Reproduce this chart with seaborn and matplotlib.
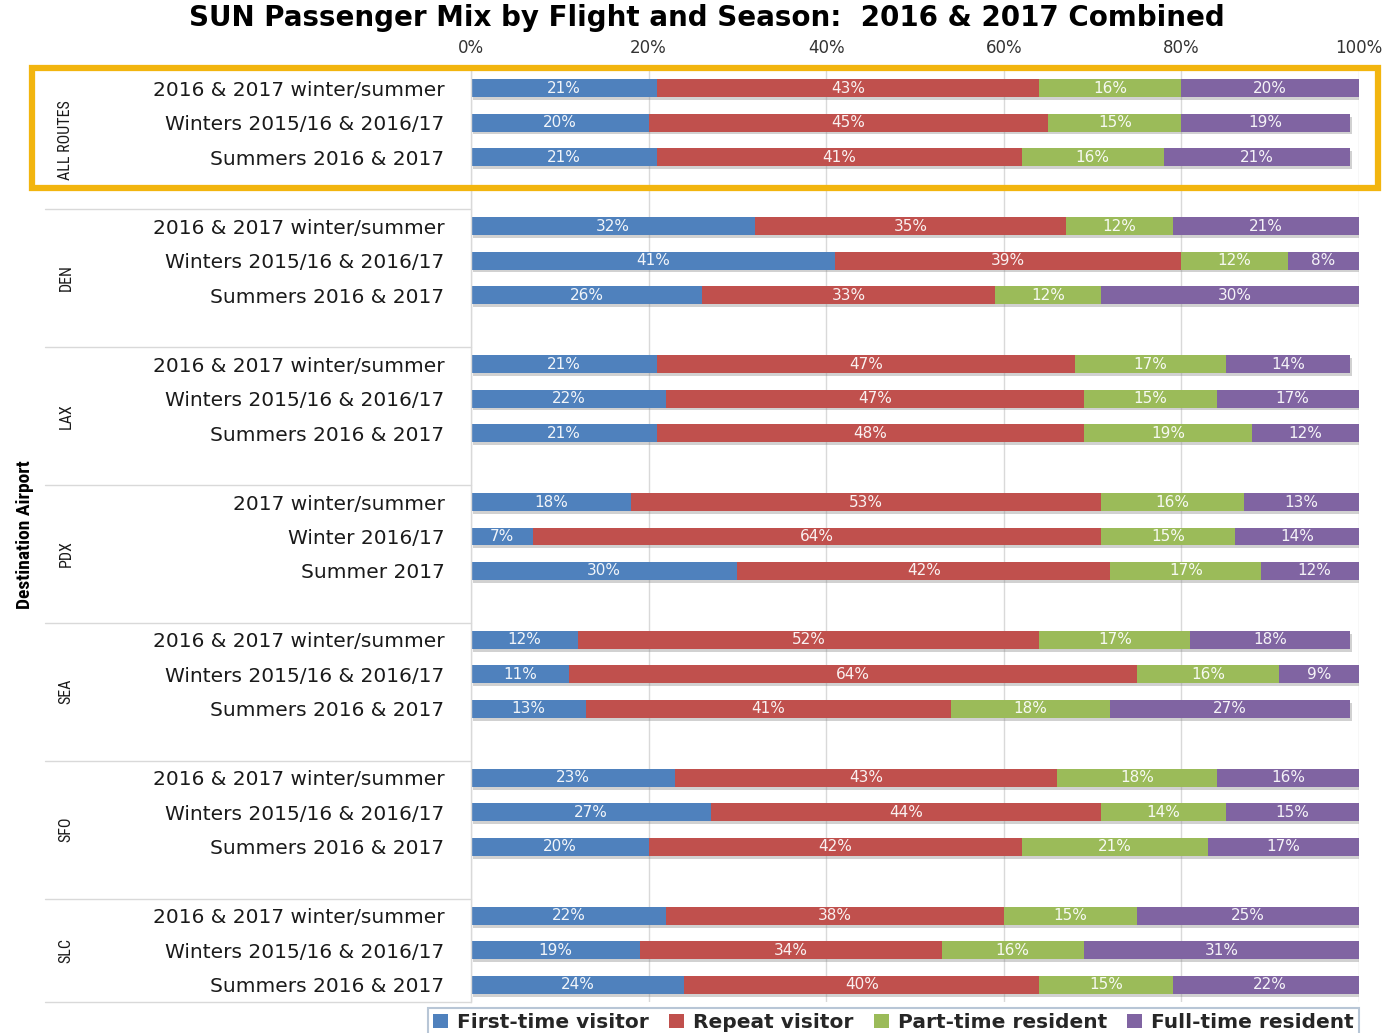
import numpy as np
import pandas as pd
import matplotlib
matplotlib.use("Agg")
import matplotlib.pyplot as plt
import matplotlib.transforms as mtransforms
import matplotlib.patheffects as pe
from matplotlib.patches import Patch, Rectangle
import seaborn as sns

# ---- data -------------------------------------------------------------
groups = ["ALL ROUTES", "DEN", "LAX", "PDX", "SEA", "SFO", "SLC"]

std_rows = ["2016 & 2017 winter/summer", "Winters 2015/16 & 2016/17", "Summers 2016 & 2017"]
pdx_rows = ["2017 winter/summer", "Winter 2016/17", "Summer 2017"]
row_labels = [std_rows, std_rows, std_rows, pdx_rows, std_rows, std_rows, std_rows]

series = ["First-time visitor", "Repeat visitor", "Part-time resident", "Full-time resident"]
colors = ["#4F81BD", "#C0504D", "#9BBB59", "#8064A2"]

first_time = [21, 20, 21, 32, 41, 26, 21, 22, 21, 18, 7, 30, 12, 11, 13, 23, 27, 20, 22, 19, 24]
repeat     = [43, 45, 41, 35, 39, 33, 47, 47, 48, 53, 64, 42, 52, 64, 41, 43, 44, 42, 38, 34, 40]
part_time  = [16, 15, 16, 12, 12, 12, 17, 15, 19, 16, 15, 17, 17, 16, 18, 18, 14, 21, 15, 16, 15]
full_time  = [20, 19, 21, 21, 8, 30, 14, 17, 12, 13, 14, 12, 18, 9, 27, 16, 15, 17, 25, 31, 22]

# ---- tidy table: one row per bar, slot = vertical position ----------
records = []
k = 0
for gi, (g, labels) in enumerate(zip(groups, row_labels)):
    for ri, lab in enumerate(labels):
        records.append({"group": g, "label": lab, "slot": gi * 4 + ri,
                        series[0]: first_time[k], series[1]: repeat[k],
                        series[2]: part_time[k], series[3]: full_time[k]})
        k += 1
df = pd.DataFrame(records)
cum = df[series].cumsum(axis=1)
for s in series:
    df["cum_" + s] = cum[s]

# ---- figure -----------------------------------------------------------
sns.set_theme(style="white")
plt.rcParams["font.family"] = ["DejaVu Sans"]
narrow = ["Roboto Condensed", "Liberation Sans Narrow", "DejaVu Sans"]

W, H = 1388, 1033
fig = plt.figure(figsize=(W / 100, H / 100), dpi=100)
ax = fig.add_axes([471 / W, 1 - 1002 / H, (1359 - 471) / W, (1002 - 71) / H])

# stacked bars drawn as overlapping cumulative totals, widest first
for i in reversed(range(len(series))):
    s = series[i]
    n_before = len(ax.patches)
    sns.barplot(data=df, x="cum_" + s, y="slot", orient="h", native_scale=True,
                color=colors[i], saturation=1, width=0.52, errorbar=None,
                linewidth=0, ax=ax)
    if i == len(series) - 1:
        for p in ax.patches[n_before:]:
            p.set_path_effects([pe.SimplePatchShadow(offset=(1.5, -2), shadow_rgbFace="#8c8c8c", alpha=0.4),
                                pe.Normal()])

# segment labels
for _, r in df.iterrows():
    left = 0
    for s in series:
        v = r[s]
        ax.text(left + v / 2, r["slot"], f"{v}%", ha="center", va="center",
                color="white", fontsize=11, alpha=0.92)
        left += v

n_slots = df["slot"].max()
ax.set_ylim(n_slots + 0.5, -0.5)
ax.set_xlim(0, 100)

# axes styling
ax.set_xticks(np.arange(0, 101, 20))
ax.set_xticklabels([f"{t}%" for t in range(0, 101, 20)])
ax.xaxis.tick_top()
ax.tick_params(axis="x", length=0, pad=10, labelsize=12, labelcolor="#333333")
ax.set_yticks(df["slot"])
ax.set_yticklabels(df["label"])
ax.tick_params(axis="y", length=0, pad=19, labelsize=14.5, labelcolor="#1a1a1a")
ax.grid(axis="x", color="#D9D9D9", linewidth=1)
ax.set_axisbelow(True)
ax.set_xlabel("")
ax.set_ylabel("")
for side in ["top", "right", "bottom"]:
    ax.spines[side].set_visible(False)
ax.spines["left"].set_color("#D9D9D9")
ax.spines["left"].set_linewidth(1)

# group labels and separators in the category area
blend = mtransforms.blended_transform_factory(fig.transFigure, ax.transData)
bounds = [-0.5] + [gi * 4 + 3.5 for gi in range(len(groups) - 1)] + [n_slots + 0.5]
for gi, g in enumerate(groups):
    ymid = (bounds[gi] + bounds[gi + 1]) / 2
    ax.text(66 / W, ymid, g, transform=blend, rotation=90, ha="center", va="center",
            fontsize=11.5, color="#1a1a1a", family=narrow, fontstretch="condensed",
            clip_on=False)
for b in bounds[1:]:
    ax.plot([45 / W, 471 / W], [b, b], transform=blend, color="#D9D9D9",
            linewidth=1, clip_on=False)

# highlight frame around the all-routes group
fig.patches.append(Rectangle((32 / W, 1 - 188 / H), (1378 - 32) / W, (188 - 68) / H,
                             transform=fig.transFigure, fill=False,
                             edgecolor="#F2B50F", linewidth=4.5))

# titles
fig.text(707 / W, 1 - 18 / H, "SUN Passenger Mix by Flight and Season:  2016 & 2017 Combined",
         ha="center", va="center", fontsize=20, fontweight="heavy", color="black")
fig.text(25 / W, 1 - 535 / H, "Destination Airport", rotation=90, ha="center", va="center",
         fontsize=14, fontweight="bold", color="black", family=narrow,
         fontstretch="condensed")

# legend
handles = [Patch(facecolor=c, edgecolor="none") for c in colors]
leg = fig.legend(handles, series, loc="upper left",
                 bbox_to_anchor=(428 / W, 1 - 1008 / H), borderaxespad=0,
                 ncol=4, frameon=True, fancybox=False,
                 handlelength=0.75, handleheight=0.75,
                 handletextpad=0.45, columnspacing=1.0, borderpad=0.25,
                 prop={"weight": "bold", "size": 14.5})
leg.get_frame().set_edgecolor("#A6B8CC")
leg.get_frame().set_linewidth(1.5)

fig.savefig("out.png", dpi=100)
